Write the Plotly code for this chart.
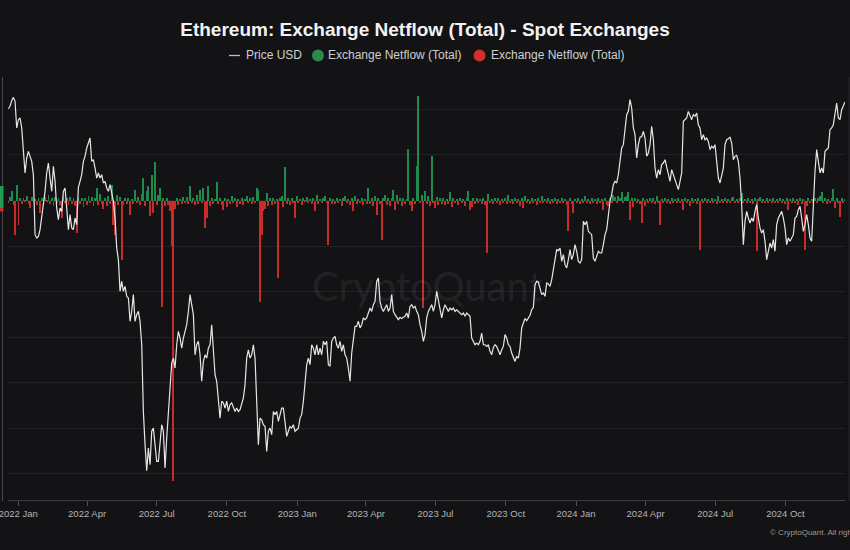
import pandas as pd
import plotly.graph_objects as go

# ---------------- data ----------------
start_date = "2021-12-19"
end_date = "2024-12-18"

price_usd = [
    3891, 3925, 4006, 4055, 3997, 3626, 3738, 3761, 3626, 3290,
    3077, 3250, 3330, 3270, 3211, 3058, 2457, 2427, 2442, 2502,
    2627, 2708, 2878, 3077, 3191, 3021, 2878, 3153, 2985, 2708,
    2595, 2708, 2675, 2878, 2913, 2708, 2502, 2643, 2518, 2502,
    2611, 2548, 2920, 2985, 3058, 3211, 3270, 3371, 3433, 3496,
    3211, 3230, 3133, 3021, 3077, 3021, 3058, 2967, 2985, 2913,
    2878, 2949, 2861, 2775, 2611, 2340, 2243, 1998, 2072, 1998,
    2034, 1962, 1950, 1791, 1857, 1974, 1791, 1835, 1857,
    1791, 1644, 1289, 1142, 1038, 1128, 1061, 1199, 1213, 1142,
    1074, 1074, 1142, 1228, 1199, 1049, 1170, 1289, 1456, 1538,
    1566, 1510, 1644, 1727, 1685, 1624, 1685, 1727, 1769, 1857,
    1974, 1903, 1835, 1585, 1644, 1665, 1585, 1439, 1547, 1585,
    1566, 1624, 1644, 1769, 1624, 1474, 1439, 1354, 1258, 1338,
    1330, 1305, 1338, 1289, 1321, 1330, 1305, 1289, 1305, 1289,
    1297, 1321, 1354, 1421, 1566, 1614, 1566, 1585, 1644, 1566,
    1289, 1142, 1258, 1250, 1228, 1220, 1114, 1199, 1213, 1184,
    1289, 1274, 1289, 1243,
    1274, 1305, 1305, 1228, 1177, 1199, 1220, 1213, 1228, 1199,
    1206, 1213, 1258, 1274, 1338, 1456, 1529, 1566, 1529, 1644,
    1624, 1585, 1644, 1585, 1624, 1585, 1665, 1644, 1665, 1529,
    1520, 1665, 1685, 1695, 1644, 1624, 1665, 1605, 1644, 1585,
    1566, 1510, 1439, 1595, 1685, 1758, 1758, 1791, 1748, 1769,
    1813, 1802, 1813, 1846, 1880, 1857, 1903, 1926, 2072, 2097,
    1926, 1880, 1857, 1880, 1903, 1857, 1880, 1974, 1857, 1835,
    1813, 1802, 1817, 1809, 1817, 1824, 1846, 1813, 1891, 1903,
    1880, 1891, 1857, 1835,
    1769, 1727, 1665, 1706, 1813, 1857, 1880, 1903, 1857, 1903,
    1998, 1926, 1857, 1813, 1868, 1903, 1880, 1857, 1880, 1868,
    1880, 1857, 1868, 1857, 1846, 1835, 1846, 1824, 1846, 1835,
    1824, 1685, 1665, 1644, 1654, 1644, 1665, 1716, 1644, 1644,
    1634, 1644, 1605, 1585, 1628, 1644, 1634, 1605, 1585, 1614,
    1634, 1706, 1685, 1644, 1634, 1595, 1570, 1547, 1575, 1566,
    1624, 1748, 1780, 1809, 1795, 1817, 1831, 1868, 1884, 2047,
    2072, 2067, 2022, 1974, 1986, 1962, 2059, 2052, 2034, 2084,
    2162, 2256, 2326, 2318,
    2340, 2229, 2284, 2202, 2176, 2243, 2326, 2243, 2284, 2369,
    2312, 2229, 2216, 2243, 2579, 2548, 2579, 2487, 2472, 2457,
    2256, 2229, 2270, 2312, 2298, 2298, 2369, 2457, 2502, 2643,
    2775, 2844, 2949, 2985, 2967, 3058, 3250, 3371, 3412, 3582,
    3807, 3853, 4021, 3900, 3626, 3539, 3250, 3412, 3505, 3513,
    3582, 3496, 3270, 3310, 3412, 3648, 3474, 3133, 3021, 3115,
    3058, 3172, 3191, 3230, 3153, 3058, 2985, 3115, 3058, 2985,
    2949, 2896, 2985, 3077, 3715, 3738, 3761, 3853, 3784, 3738,
    3807, 3784, 3830, 3670,
    3626, 3474, 3539, 3474, 3496, 3453, 3351, 3392, 3371, 3412,
    3211, 3021, 2967, 3058, 3133, 3412, 3474, 3487, 3505, 3433,
    3230, 3270, 3282, 3211, 3021, 2741, 2369, 2579, 2675, 2611,
    2563, 2611, 2579, 2675, 2741, 2611, 2518, 2472, 2502, 2398,
    2243, 2312, 2383, 2340, 2413, 2312, 2548, 2611, 2643, 2675,
    2611, 2518, 2369, 2427, 2398, 2427, 2457, 2611, 2627, 2691,
    2725, 2611, 2487, 2548, 2643, 2548, 2427, 2398, 2741, 3096,
    3351, 3230, 3077, 3133, 3077, 3330, 3351, 3371, 3604, 3626,
    3670, 3807, 3972, 3761, 3738, 3877, 3925, 3987,
]

# exchange netflow, thousand ETH
netflow_k = [
    -6, 8, 20, -9, -75, 33, -53, 5, -8, 6,
    -4, 9, -7, -16, 7, -5, 4, -9, 6, -27,
    5, -6, 8, -4, 12, -8, 5, -11, 7, -5,
    6, -9, -38, 9, -6, 5, -10, 8, -7, 6,
    -12, -71, 7, -8, 5, -14, 6, -9, 10, -6,
    8, -11, 6, 27, -9, 14, -7, -19, 5, -12,
    9, -8, 35, -53, -75, 12, -9, 7, -130, -10,
    6, -8, 5, -31, 4, -7, 24, -6, 8, -9,
    14, 49, -12, 20, 32, -35, 57, -27, 85, -10,
    12, 27, -233, 6, -11, 5, -9, -24, -101, -617,
    -18, 6, -9, 4, -7, 8, -5, 7, -8, 31,
    -6, 5, -9, 12, -7, 24, -5, 27, -60, -38,
    31, -12, 5, -7, 4, 40, -8, 5, -9, -20,
    6, -14, 4, -8, 9, -6, 5, -15, 4, -7,
    6, -9, 4, 9, -6, 5, -8, 7, -5, 27,
    24, -222, -75, -24, -18, 16, -12, 6, -9, 5,
    -7, 4, -170, 6, 9, -14, 73, -8, 5, -10,
    6, -5, -38, 9, -6, 4, -9, 5, -4, 7,
    -6, 4, -8, 5, -24, 12, -7, 4, -5, 6,
    9, -6, -97, 5, -8, 4, -7, 6, -5, 4,
    -13, 5, 9, -6, 4, -9, 5, -24, 9, -7,
    4, -6, 5, -10, 4, -7, 27, -8, 5, -12,
    9, -31, 5, -7, -86, 6, 12, -9, 5, -11,
    6, 22, -20, 11, -8, 5, -12, 6, -7, 4,
    114, -9, -24, 6, -8, 75, 229, -6, 13, -236,
    20, -7, 9, -11, 98, -6, -16, 7, -9, 5,
    -8, 6, -10, 4, -7, 19, -15, 5, -6, 4,
    -9, 6, -5, 4, -12, 5, 20, -20, -14, 6,
    -8, 5, -6, 4, -7, 5, -9, -115, 14, -6,
    4, -8, 5, -5, 6, -9, 4, -6, 5, -7,
    12, -5, 4, -8, 5, -6, 4, -13, 6, -16,
    9, -5, 4, -7, 5, -6, 4, -9, 5, -5,
    9, -6, 4, -5, 6, -7, 4, -5, 5, -8,
    4, -6, 5, -5, 4, -9, -68, 5, -7, -27,
    4, -6, 5, -8, 4, -5, 9, -6, 4, -7,
    5, -5, 4, -8, 5, -6, 4, -20, 5, -9,
    -12, 6, -5, 13, 8, -6, 10, 6, 18, -5,
    7, 9, 19, -42, 6, -14, 5, -6, 4, -8,
    -49, 5, -12, 4, -6, 5, -5, 6, -7, 9,
    -5, -53, 4, -6, 5, -5, 4, -7, 5, -5,
    4, -6, 5, -5, 4, -20, 5, -6, 4, -13,
    5, -5, 4, -7, 5, -108, 4, -6, 5, -5,
    4, -6, 5, -5, 4, -7, 9, -5, 4, -6,
    5, -5, 4, -6, 5, 7, -5, 4, -6, 5,
    16, -6, 4, -5, 5, -6, 4, -7, 5, -112,
    4, 7, -5, 4, -6, 5, -5, 4, -6, 5,
    -5, 4, -6, 5, -5, 4, -7, 5, -20, 4,
    -6, 5, -5, 4, -9, 5, -7, 4, -108, -13,
    5, -6, 4, -5, 6, -5, 5, 9, 19, -6,
    5, -7, 4, -5, 6, 25, -16, 5, -6, -37,
    5, -6, 4,
]

title_text = "Ethereum: Exchange Netflow (Total) - Spot Exchanges"
price_name = "Price USD"
netflow_name = "Exchange Netflow (Total)"

# ---------------- styling ----------------
BG = "#131316"
GREEN = "#1e8a4c"
RED = "#c92a2a"
LINE = "#e6e6e6"
FONT = "Liberation Sans, Arial, sans-serif"

dates = pd.date_range(start_date, end_date, periods=len(price_usd))
inflow = [v if v > 0 else None for v in netflow_k]
outflow = [v if v < 0 else None for v in netflow_k]
bar_w = 1.0 * 86400000

fig = go.Figure()
fig.add_trace(go.Bar(x=dates, y=inflow, marker=dict(color=GREEN, line=dict(width=0)),
                     width=bar_w, showlegend=False, name=netflow_name))
fig.add_trace(go.Bar(x=dates, y=outflow, marker=dict(color=RED, line=dict(width=0)),
                     width=bar_w, showlegend=False, name=netflow_name))
fig.add_trace(go.Scatter(x=dates, y=price_usd, mode="lines", yaxis="y2",
                         line=dict(color=LINE, width=1.2), showlegend=False, name=price_name))

W, H = 850, 550
ML, MR, MT, MB = 8, 5, 78, 50
PW, PH = W - ML - MR, H - MT - MB

def px(xp):
    return (xp - ML) / PW

def py(yp):
    return (H - MB - yp) / PH

LEG_Y = 55.5
legend_texts = [(price_name, 244), (netflow_name, 326), (netflow_name, 489)]
annotations = [
    dict(text="CryptoQuant", x=px(427), y=py(286), xref="paper", yref="paper",
         showarrow=False, font=dict(family="Lato, sans-serif", size=40,
                                    color="rgba(255,255,255,0.08)")),
    dict(text="© CryptoQuant. All rights reserved.", x=px(768), y=py(532),
         xref="paper", yref="paper", xanchor="left", yanchor="middle",
         showarrow=False, font=dict(size=8, color="#9a9a9a")),
]
for t, xl in legend_texts:
    annotations.append(dict(text=t, x=px(xl), y=py(LEG_Y), xref="paper", yref="paper",
                            xanchor="left", yanchor="middle", showarrow=False,
                            font=dict(size=12, color="#cfcfcf")))

shapes = [
    # legend symbols
    dict(type="line", xref="paper", yref="paper", x0=px(229), x1=px(240),
         y0=py(LEG_Y), y1=py(LEG_Y), line=dict(color="#bdbdbd", width=1.3)),
    dict(type="circle", xref="paper", yref="paper", x0=px(312), x1=px(324),
         y0=py(LEG_Y + 6), y1=py(LEG_Y - 6), fillcolor="#2a8a4e", line=dict(width=0)),
    dict(type="circle", xref="paper", yref="paper", x0=px(473.5), x1=px(485.5),
         y0=py(LEG_Y + 6), y1=py(LEG_Y - 6), fillcolor="#d22f2f", line=dict(width=0)),
    # frame details
    dict(type="line", xref="paper", yref="paper", x0=px(2.5), x1=px(2.5),
         y0=py(501), y1=py(77), line=dict(color="#46464c", width=1)),
    dict(type="line", xref="paper", yref="paper", x0=px(849), x1=px(849),
         y0=py(501), y1=py(77), line=dict(color="#26262a", width=1)),
    dict(type="rect", xref="paper", yref="paper", x0=px(0), x1=px(3.5),
         y0=py(208), y1=py(186), fillcolor="#1f9d55", line=dict(width=0)),
    dict(type="rect", xref="paper", yref="paper", x0=px(0), x1=px(3.5),
         y0=py(211.5), y1=py(208), fillcolor="#d02a2a", line=dict(width=0)),
]

fig.update_layout(
    width=W, height=H,
    margin=dict(l=ML, r=MR, t=MT, b=MB, pad=0, autoexpand=False),
    paper_bgcolor=BG, plot_bgcolor=BG,
    barmode="overlay", bargap=0,
    showlegend=False,
    font=dict(family=FONT, color="#c8c8c8"),
    title=dict(text="<b>" + title_text + "</b>", x=0.5, xanchor="center",
               y=1 - 29 / H, yanchor="middle",
               font=dict(family=FONT, size=19, color="#f2f2f2")),
    xaxis=dict(type="date", range=["2021-12-18 12:00", "2024-12-18"],
               tick0="2022-01-01", dtick="M3", tickformat="%Y %b",
               ticks="outside", ticklen=5, tickcolor="#505055",
               ticklabeloverflow="allow", automargin=False,
               showline=True, linecolor="#3c3c42", linewidth=1,
               showgrid=False, zeroline=False,
               tickfont=dict(size=9.5, color="#b4b4b4")),
    yaxis=dict(range=[-658.2, 269.2], tick0=0, dtick=100, showticklabels=False,
               showgrid=True, gridcolor="#212125", gridwidth=1, zeroline=False,
               showline=False, ticks="", automargin=False),
    yaxis2=dict(type="log", range=[2.96989, 3.63867], overlaying="y", side="right",
                showgrid=False, showticklabels=False, zeroline=False, showline=False,
                automargin=False),
    annotations=annotations,
    shapes=shapes,
)

fig.write_html("out.html")
